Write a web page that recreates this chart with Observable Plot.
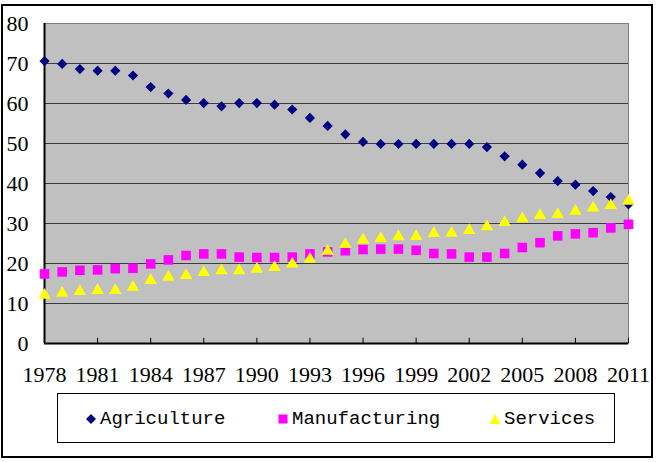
<!DOCTYPE html>
<html>
<head>
<meta charset="utf-8">
<script src="https://cdn.jsdelivr.net/npm/d3@7"></script>
<script src="https://cdn.jsdelivr.net/npm/@observablehq/plot@0.6"></script>
<style>
  html, body { margin: 0; padding: 0; background: #fff; }
  #chart { position: relative; width: 656px; height: 462px; overflow: hidden; }
  #frame { position: absolute; left: 1px; top: 4px; width: 648px; height: 450px; border: 2px solid #000; }
  #plot { position: absolute; left: 0; top: 0; }
  #plot svg, #plot svg text { font-family: "Liberation Serif", "Times New Roman", serif !important; font-size: 22px; }
  #legend {
    position: absolute; left: 57px; top: 393px; width: 556px; height: 48px;
    border: 1px solid #000; background: #fff;
    font-family: "Liberation Mono", monospace; font-size: 19px; color: #000;
  }
  .item { position: absolute; top: 1px; height: 48px; display: flex; align-items: center; }
  .item svg { margin-right: 3px; }
</style>
</head>
<body>
<div id="chart">
  <div id="frame"></div>
  <div id="plot"></div>
  <div id="legend"></div>
</div>
<script>
// Employment shares by sector (%), 1978–2011
const years = [1978, 1979, 1980, 1981, 1982, 1983, 1984, 1985, 1986, 1987, 1988, 1989,
  1990, 1991, 1992, 1993, 1994, 1995, 1996, 1997, 1998, 1999, 2000, 2001, 2002, 2003,
  2004, 2005, 2006, 2007, 2008, 2009, 2010, 2011];

const agriculture = [70.6, 69.9, 68.6, 68.2, 68.2, 67.0, 64.1, 62.5, 60.9, 60.1, 59.3, 60.1,
  60.1, 59.7, 58.5, 56.4, 54.4, 52.3, 50.4, 49.9, 49.9, 49.9, 49.9, 49.9, 49.9, 49.1,
  46.8, 44.7, 42.6, 40.6, 39.7, 38.1, 36.6, 34.8];

const manufacturing = [17.4, 17.9, 18.3, 18.4, 18.7, 18.8, 19.9, 20.9, 22.0, 22.4, 22.4, 21.6,
  21.5, 21.5, 21.6, 22.4, 22.9, 23.2, 23.5, 23.6, 23.6, 23.3, 22.5, 22.4, 21.6, 21.6,
  22.5, 24.0, 25.2, 26.9, 27.4, 27.7, 28.9, 29.8];

const services = [12.1, 12.6, 13.0, 13.3, 13.3, 14.1, 15.8, 16.6, 17.0, 17.8, 18.2, 18.2,
  18.6, 19.0, 19.9, 21.1, 23.1, 24.8, 25.9, 26.3, 26.7, 26.8, 27.5, 27.6, 28.3, 29.2,
  30.3, 31.2, 32.0, 32.3, 33.1, 33.9, 34.5, 35.6];

const seriesNames = ["Agriculture", "Manufacturing", "Services"];
const yearLabels = [1978, 1981, 1984, 1987, 1990, 1993, 1996, 1999, 2002, 2005, 2008, 2011];
const yTicks = [0, 10, 20, 30, 40, 50, 60, 70, 80];
const gridLines = [10, 20, 30, 40, 50, 60, 70];

const colors = {Agriculture: "#000080", Manufacturing: "#ff00ff", Services: "#ffff00"};
const symbols = {Agriculture: "diamond2", Manufacturing: "square", Services: "triangle"};
const radii = {Agriculture: 4.6, Manufacturing: 5.4, Services: 4.6};

const table = (name, values) => years.map((year, i) => ({year, value: values[i], series: name}));
const data = [
  table("Agriculture", agriculture),
  table("Manufacturing", manufacturing),
  table("Services", services)
];

const chart = Plot.plot({
  width: 656,
  height: 390,
  marginLeft: 44,
  marginRight: 28,
  marginTop: 23,
  marginBottom: 47,
  x: {domain: [1978, 2011], label: null},
  y: {domain: [0, 80], label: null},
  style: {fontSize: "22px", color: "#000", background: "none"},
  marks: [
    Plot.frame({fill: "#c0c0c0", stroke: "#7f7f7f"}),
    Plot.ruleY(gridLines, {stroke: "#3c3c3c", strokeWidth: 1.2}),
    Plot.ruleX(yearLabels.slice(1), {y1: 0, y2: 1.3, stroke: "#000", strokeWidth: 1}),
    Plot.ruleY([0], {stroke: "#000", strokeWidth: 2}),
    Plot.ruleX([1978], {stroke: "#000", strokeWidth: 2}),
    Plot.axisY({ticks: yTicks, tickSize: 0, tickPadding: 16, label: null, tickFormat: d => String(d)}),
    Plot.axisX({ticks: yearLabels, tickSize: 0, tickPadding: 23, label: null, tickFormat: d => String(d)}),
    ...data.map(rows => Plot.dot(rows, {
      x: "year", y: "value",
      symbol: symbols[rows[0].series],
      r: radii[rows[0].series],
      fill: colors[rows[0].series],
      stroke: "none"
    }))
  ]
});
document.getElementById("plot").appendChild(chart);

// Legend row beneath the plot
const legend = document.getElementById("legend");
const itemLeft = {Agriculture: 27, Manufacturing: 219, Services: 431};
const markerSvg = {
  Agriculture: `<svg width="12" height="12" viewBox="-6 -6 12 12"><path d="M0,-5L5,0L0,5L-5,0Z" fill="${colors.Agriculture}"/></svg>`,
  Manufacturing: `<svg width="12" height="12" viewBox="-6 -6 12 12"><rect x="-4.5" y="-4.5" width="9" height="9" fill="${colors.Manufacturing}"/></svg>`,
  Services: `<svg width="12" height="12" viewBox="-6 -6 12 12"><path d="M0,-5L5.5,5L-5.5,5Z" fill="${colors.Services}"/></svg>`
};
for (const name of seriesNames) {
  const item = document.createElement("div");
  item.className = "item";
  item.style.left = itemLeft[name] + "px";
  item.innerHTML = markerSvg[name] + `<span>${name}</span>`;
  legend.appendChild(item);
}
</script>
</body>
</html>
